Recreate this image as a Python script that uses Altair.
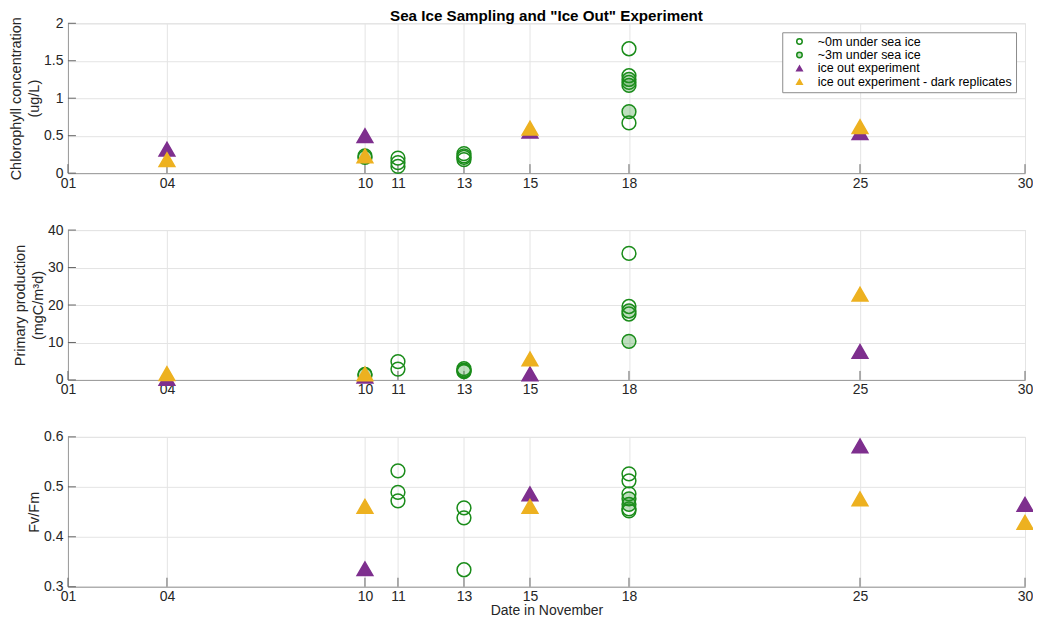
import altair as alt
import pandas as pd

FONT = "Liberation Sans"
SERIES = ["~0m under sea ice", "~3m under sea ice", "ice out experiment",
          "ice out experiment - dark replicates"]
KINDS = ["circle", "circle", "triangle", "triangle"]
GREEN = "#1a8c1a"
PURPLE = "#7e2f8e"
YELLOW = "#edb120"
STROKES = [GREEN, GREEN, PURPLE, YELLOW]
FILLS = ["transparent", "rgba(40,150,40,0.3)", PURPLE, YELLOW]
SHAPES = ["circle", "circle", "triangle-up", "triangle-up"]

x_ticks = [1, 4, 10, 11, 13, 15, 18, 25, 30]

# Chlorophyll concentration (ug/L)
chl_0m_day = [10, 11, 11, 11, 13, 13, 13, 13, 18, 18, 18, 18]
chl_0m_val = [0.23, 0.20, 0.14, 0.09, 0.26, 0.23, 0.21, 0.18, 1.66, 1.30, 1.21, 0.67]
chl_3m_day = [10, 18, 18, 18]
chl_3m_val = [0.21, 1.25, 1.17, 0.82]
chl_io_day = [4, 10, 15, 25]
chl_io_val = [0.32, 0.50, 0.56, 0.54]
chl_dark_day = [4, 10, 15, 25]
chl_dark_val = [0.18, 0.23, 0.60, 0.62]
chl_ticks = [0, 0.5, 1, 1.5, 2]

# Primary production (mgC/m3d)
pp_0m_day = [10, 11, 11, 13, 13, 13, 18, 18, 18]
pp_0m_val = [1.5, 4.9, 2.9, 3.0, 2.6, 2.2, 33.8, 19.6, 17.6]
pp_3m_day = [10, 13, 18, 18]
pp_3m_val = [1.3, 2.4, 18.4, 10.3]
pp_io_day = [4, 10, 15, 25]
pp_io_val = [0.4, 1.0, 1.6, 7.6]
pp_dark_day = [4, 10, 15, 25]
pp_dark_val = [1.7, 1.6, 5.6, 22.9]
pp_ticks = [0, 10, 20, 30, 40]

# Fv/Fm
fv_0m_day = [11, 11, 11, 13, 13, 13, 18, 18, 18, 18, 18]
fv_0m_val = [0.532, 0.489, 0.472, 0.458, 0.438, 0.334, 0.526, 0.512, 0.486, 0.456, 0.452]
fv_3m_day = [18, 18]
fv_3m_val = [0.476, 0.465]
fv_io_day = [10, 15, 25, 30]
fv_io_val = [0.336, 0.486, 0.582, 0.465]
fv_dark_day = [10, 15, 25, 30]
fv_dark_val = [0.461, 0.461, 0.476, 0.429]
fv_ticks = [0.3, 0.4, 0.5, 0.6]


def frame(groups):
    rows = []
    for name, kind, (days, vals) in zip(SERIES, KINDS, groups):
        for d, v in zip(days, vals):
            rows.append({"day": d, "value": v, "series": name, "kind": kind})
    return pd.DataFrame(rows)


W, H = 958, 150


def panel(df, ytitle, ydomain, yvals, xtitle=None, legend=False, title=None):
    xaxis = alt.Axis(
        values=x_ticks, ticks=False, grid=True, gridColor="#e4e4e4",
        domainColor="#9a9a9a", labelFont=FONT, labelFontSize=14, labelColor="#262626",
        labelPadding=3, labelFlush=False, labelOverlap=False,
        labelExpr="datum.value < 10 ? '0' + datum.value : '' + datum.value",
        title=xtitle, titleFont=FONT, titleFontSize=14, titleFontWeight="normal",
        titleColor="#262626", titlePadding=0,
    )
    yaxis = alt.Axis(
        values=yvals, labelExpr="'' + datum.value", ticks=False, grid=True,
        gridColor="#e4e4e4", domainColor="#9a9a9a", labelFont=FONT, labelFontSize=14,
        labelColor="#262626", labelPadding=5, title=ytitle, titleFont=FONT,
        titleFontSize=14.5, titleFontWeight="normal", titleColor="#262626",
        titlePadding=2, titleLineHeight=18,
    )
    X = alt.X("day:Q", scale=alt.Scale(domain=[1, 30], nice=False, zero=False), axis=xaxis)
    Y = alt.Y("value:Q", scale=alt.Scale(domain=ydomain, nice=False, zero=False), axis=yaxis)

    if legend:
        leg = alt.Legend(
            title=None, orient="top-right", offset=9, labelFont=FONT, labelFontSize=12.5,
            labelColor="#000", labelLimit=400, padding=3, strokeColor="#8c8c8c",
            fillColor="white", symbolSize=30, symbolStrokeWidth=1.5, rowPadding=0.5,
            labelOffset=12, symbolOffset=8, cornerRadius=0,
        )
    else:
        leg = None

    pts = alt.Chart(df).mark_point(opacity=1, strokeWidth=1.5, filled=True).encode(
        x=X, y=Y,
        stroke=alt.Stroke("series:N", scale=alt.Scale(domain=SERIES, range=STROKES), legend=leg),
        fill=alt.Fill("series:N", scale=alt.Scale(domain=SERIES, range=FILLS), legend=leg),
        shape=alt.Shape("series:N", scale=alt.Scale(domain=SERIES, range=SHAPES), legend=leg),
        size=alt.Size("kind:N", scale=alt.Scale(domain=["circle", "triangle"], range=[190, 250]),
                      legend=None),
    )
    xt = alt.Chart(pd.DataFrame({"day": x_ticks})).mark_rule(color="#666", strokeWidth=1).encode(
        x=X, y=alt.value(H), y2=alt.value(H - 9))
    yt = alt.Chart(pd.DataFrame({"value": yvals})).mark_rule(color="#666", strokeWidth=1).encode(
        y=Y, x=alt.value(0), x2=alt.value(8))
    props = dict(width=W, height=H)
    if title:
        props["title"] = alt.Title(title, font=FONT, fontSize=15.2, fontWeight="bold",
                                   color="#000", offset=-8, anchor="middle", frame="group")
    return alt.layer(xt, yt, pts).properties(**props)


chl_df = frame([(chl_0m_day, chl_0m_val), (chl_3m_day, chl_3m_val),
                (chl_io_day, chl_io_val), (chl_dark_day, chl_dark_val)])
pp_df = frame([(pp_0m_day, pp_0m_val), (pp_3m_day, pp_3m_val),
               (pp_io_day, pp_io_val), (pp_dark_day, pp_dark_val)])
fv_df = frame([(fv_0m_day, fv_0m_val), (fv_3m_day, fv_3m_val),
               (fv_io_day, fv_io_val), (fv_dark_day, fv_dark_val)])

p1 = panel(chl_df, ["Chlorophyll concentration", "(ug/L)"], [0, 2], chl_ticks,
           legend=True, title='Sea Ice Sampling and "Ice Out" Experiment')
p2 = panel(pp_df, ["Primary production", "(mgC/m\u00b3d)"], [0, 40], pp_ticks)
p3 = panel(fv_df, "Fv/Fm", [0.3, 0.6], fv_ticks, xtitle="Date in November")

chart = alt.vconcat(p1, p2, p3, spacing=57, bounds="flush").resolve_scale(
    stroke="independent", fill="independent", shape="independent", size="independent"
).properties(
    padding={"top": 0, "bottom": 0, "left": 0, "right": -4}
).configure_view(stroke=None).configure(background="white")

chart.save("out.html", embed_options={"renderer": "svg", "actions": False})
